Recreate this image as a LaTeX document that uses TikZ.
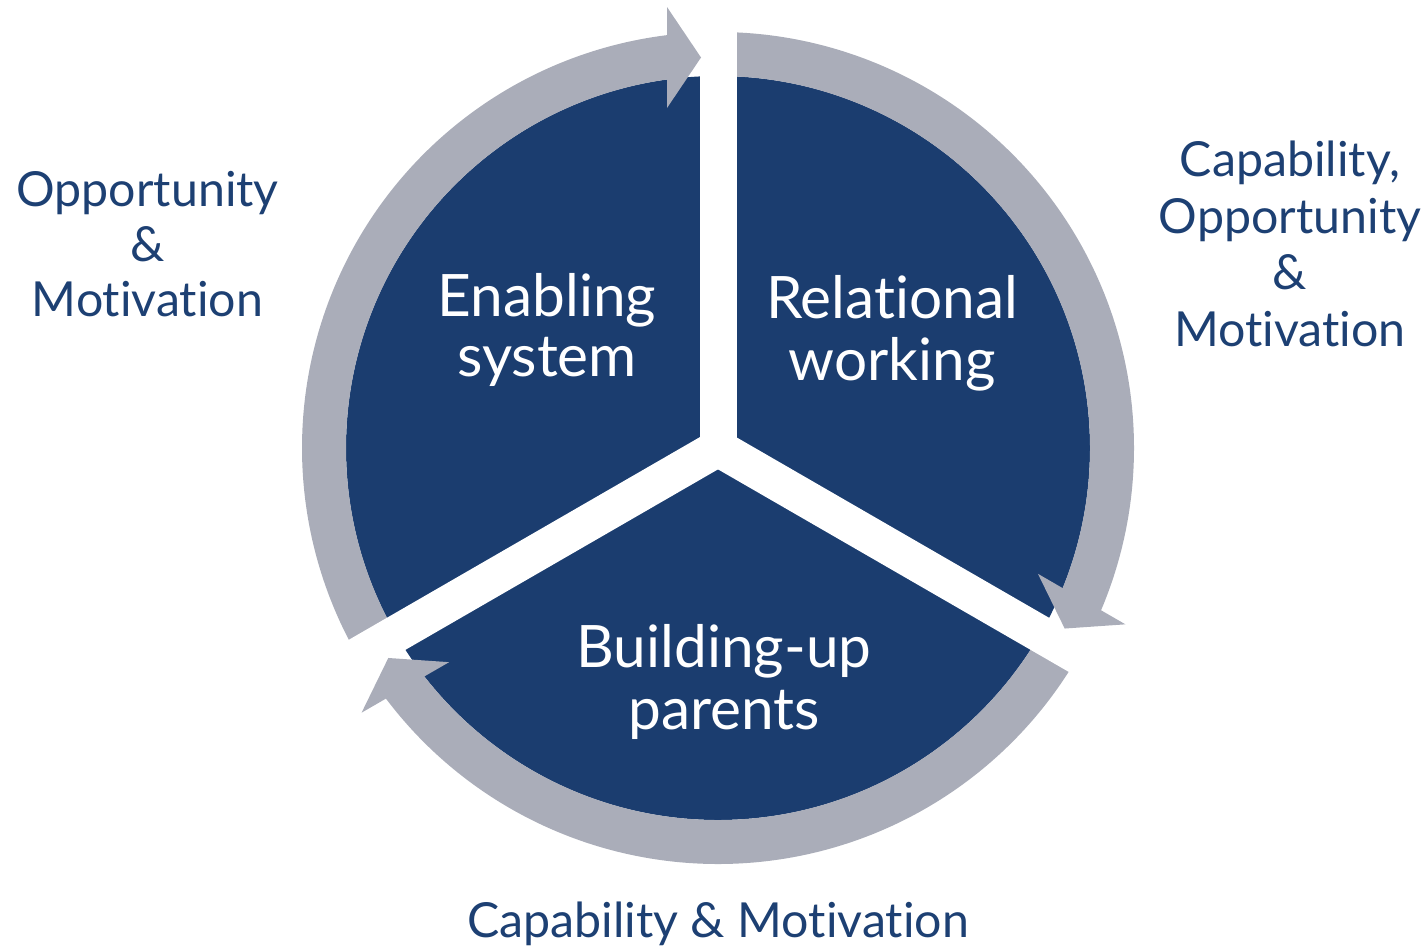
\documentclass[tikz,border=0pt]{standalone}
\usepackage{fontspec}
\setmainfont{Lato}[Ligatures=NoCommon]
\definecolor{pieblue}{RGB}{27,61,111}
\definecolor{ringgray}{RGB}{170,173,185}
\definecolor{textblue}{RGB}{29,64,115}
\begin{document}
\begin{tikzpicture}[x=1pt,y=1pt,
  seg/.style={fill=pieblue},
  shaftstyle/.style={fill=ringgray},
  headstyle/.style={fill=ringgray},
  gapline/.style={draw=white,line width=37pt,line cap=butt},
  intext/.style={text=white,font=\fontsize{58.5}{60}\selectfont,anchor=base,inner sep=0pt},
  outtext/.style={text=textblue,font=\fontsize{48.3}{50}\selectfont,anchor=base,inner sep=0pt}]
\useasboundingbox (0,0) rectangle (1427,-946);
\coordinate (O) at (718,-448);
% pie
\fill[seg] (O) circle[radius=372];
% ring shafts
\foreach \r in {0,-120,-240}{
  \begin{scope}[shift={(718,-448)},rotate=\r]
    \fill[shaftstyle] (211:416) arc[start angle=211,end angle=97,radius=416]
      -- (97:372) arc[start angle=97,end angle=211,radius=372] -- cycle;
  \end{scope}}
% white gaps
\foreach \a in {90,210,330}{
  \draw[gapline] (O) -- ++(\a:480);}
% arrowheads
\foreach \r in {0,-120,-240}{
  \begin{scope}[shift={(718,-448)},rotate=\r]
    \fill[headstyle] (-51,441) -- (-17,390.5) -- (-51,340) -- cycle;
  \end{scope}}
% inner labels
\node[intext] (en1) at (547,-316) {Enabling};
\node[intext] (en2) at (547,-376) {system};
\node[intext] (re1) at (892,-318) {Relational};
\node[intext] (re2) at (892,-380) {working};
\node[intext] (bu1) at (724,-667) {Building-up};
\node[intext] (bu2) at (724,-729) {parents};
% outer labels
\node[outtext] (lo1) at (147.5,-206.7) {Opportunity};
\node[outtext] (lo2) at (147.5,-261.7) {\&};
\node[outtext] (lo3) at (147.5,-316.7) {Motivation};
\node[outtext] (ro1) at (1290,-176) {Capability,};
\node[outtext] (ro2) at (1290,-233) {Opportunity};
\node[outtext] (ro3) at (1290,-289) {\&};
\node[outtext] (ro4) at (1290,-346) {Motivation};
\node[outtext] (bo1) at (718,-937) {Capability \& Motivation};
\end{tikzpicture}
\end{document}
